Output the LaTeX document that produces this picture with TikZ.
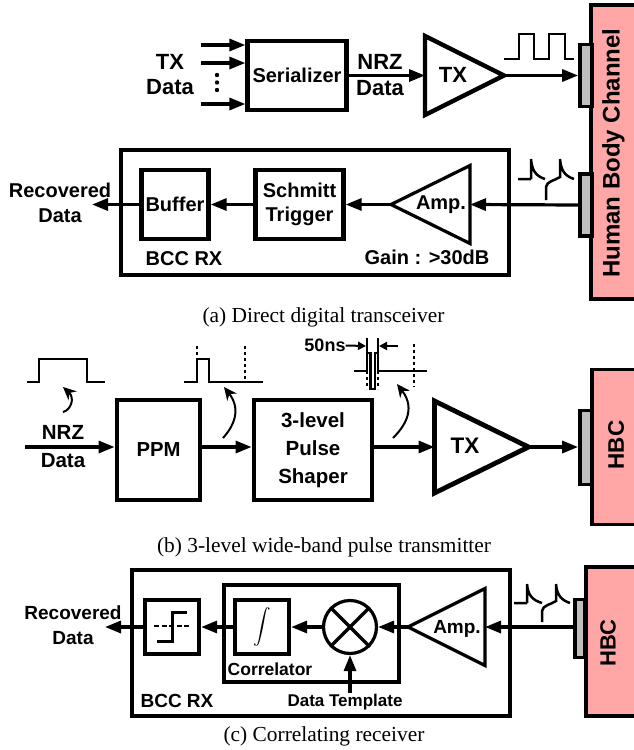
\documentclass[tikz,border=0pt]{standalone}
\usepackage{fontspec}
\setmainfont{Liberation Serif}
\setsansfont{Liberation Sans}
\usetikzlibrary{arrows.meta,shapes.geometric}
\definecolor{hbcpink}{RGB}{255,166,166}
\definecolor{elecgray}{RGB}{190,190,190}
\tikzset{
    lab/.style={font=\sffamily\bfseries\fontsize{#1}{25}\selectfont, inner sep=0pt, align=center},
    lab/.default=20,
    capt/.style={font=\fontsize{21.4}{25}\selectfont, inner sep=0pt},
    block/.style={draw, line width=#1, fill=white, inner sep=0pt},
    block/.default=4.3pt,
    amp/.style={draw, isosceles triangle, isosceles triangle stretches, inner sep=0pt, outer sep=0pt, line width=#1},
    sig/.style={line width=3.2pt, -{Triangle[length=16pt,width=12pt]}},
    wave/.style={line width=2.5pt},
    dashmark/.style={line width=1.3pt, dashed},
    hint/.style={line width=2pt, -{Stealth[length=13pt,width=12pt]}},
    dimarrow/.style={line width=2pt, -{Triangle[length=8pt,width=8pt]}},
    body/.style={draw, line width=3.8pt, fill=hbcpink, inner sep=0pt},
    elec/.style={draw, line width=3.8pt, fill=elecgray, inner sep=0pt},
}
\begin{document}
\begin{tikzpicture}[x=1pt,y=-1pt]
    \useasboundingbox (0,0) rectangle (634,750);

    % (a) transmit path
    \node[body, minimum width=50pt, minimum height=294pt] (bodya) at (616,152) {};
    \node[elec, minimum width=12pt, minimum height=62pt] (eleca) at (586,75.5) {};
    \node[elec, minimum width=12pt, minimum height=62pt] (elecb) at (586,205) {};
    \node[lab=24, rotate=90] (bodytxt) at (613.5,153) {Human Body Channel};
    \node[block, minimum width=99pt, minimum height=69pt, font=\sffamily\bfseries\fontsize{20}{24}\selectfont] (serial) at (297,75.5) {Serializer};
    \node[amp=4.3pt, minimum width=79pt, minimum height=79pt, anchor=lower side] (txa) at (425,75.5) {};
    \node[lab=22] (txatxt) at (453,75) {TX};
    \node[lab=22] (txdata) at (170,75) {TX\\Data};
    \node[lab=22] (nrza) at (380,75) {NRZ\\[1pt]Data};
    \coordinate (ina) at (201,45);
    \coordinate (inb) at (201,63);
    \coordinate (inc) at (201,104);
    \draw[sig] (ina) -- (ina -| serial.west);
    \draw[sig] (inb) -- (inb -| serial.west);
    \draw[sig] (inc) -- (inc -| serial.west);
    \fill (217,75) circle (2.2pt) (217,82.5) circle (2.2pt) (217,90) circle (2.2pt);
    \draw[sig] (serial.east) -- (txa.lower side);
    \draw[sig] (txa.apex) -- (eleca.west);
    \draw[wave] (504,59) -| (519,34) -| (534,59) -| (549,34) -| (565,59) -- (574,59);

    % (a) receive path
    \node[block=4.6pt, minimum width=388pt, minimum height=125pt] (rxa) at (315,212.5) {};
    \node[block, minimum width=67pt, minimum height=69pt, font=\sffamily\bfseries\fontsize{20}{24}\selectfont] (buffer) at (175,204.5) {Buffer};
    \node[block, minimum width=88pt, minimum height=69pt, align=center, font=\sffamily\bfseries\fontsize{20}{24}\selectfont] (schmitt) at (299.5,204.5) {Schmitt\\Trigger};
    \node[amp=3.2pt, minimum width=78pt, minimum height=79pt, shape border rotate=180, anchor=lower side] (ampa) at (470,204.5) {};
    \node[lab] (ampatxt) at (441,205) {Amp.};
    \node[lab] (bccrxa) at (184,259) {BCC RX};
    \node[lab] (gain) at (427,257) {Gain : >30dB};
    \node[lab] (reca) at (60,203) {Recovered\\Data};
    \coordinate (outa) at (92,204.5);
    \draw[sig] (elecb.west) -- (ampa.lower side);
    \draw[sig] (ampa.apex) -- (schmitt.east);
    \draw[sig] (schmitt.west) -- (buffer.east);
    \draw[sig] (buffer.west) -- (outa);
    \draw[wave, shift={(518,179)}] (0,0) -- (13,0) (13,-20) -- (13,0)
        (13,-20) .. controls (14,-8) and (18,-3) .. (27,0)
        (28,21) -- (28,8) .. controls (29,2) and (36,2) .. (42,-2) -- (42,-20)
        (42,-20) .. controls (43,-8) and (47,-3) .. (56,0);
    \node[capt] (capa) at (323.5,317) {(a) Direct digital transceiver};

    % (b) pulse transmitter
    \node[body, minimum width=50pt, minimum height=155pt] (bodyb) at (617,447) {};
    \node[elec, minimum width=12pt, minimum height=74pt] (elecc) at (586,447.5) {};
    \node[lab=22.5, rotate=90] (hbcb) at (616,445) {HBC};
    \node[block=4.8pt, minimum width=83pt, minimum height=100pt, font=\sffamily\bfseries\fontsize{20.3}{24}\selectfont] (ppm) at (158.5,450) {PPM};
    \node[block=4.8pt, minimum width=118pt, minimum height=100pt, align=center, font=\sffamily\bfseries\fontsize{20.5}{28}\selectfont] (shaper) at (313,450) {3-level\\Pulse\\Shaper};
    \node[amp=4.8pt, minimum width=92pt, minimum height=94pt, anchor=lower side] (txb) at (434.5,447) {};
    \node[lab=22.5] (txbtxt) at (465,446) {TX};
    \node[lab=20.5] (nrzb) at (63,447) {NRZ\\[3pt]Data};
    \coordinate (inbb) at (25,447);
    \draw[sig] (inbb) -- (inbb -| ppm.west);
    \draw[sig] (ppm.east |- inbb) -- (inbb -| shaper.west);
    \draw[sig] (shaper.east |- inbb) -- (txb.lower side);
    \draw[sig] (txb.apex) -- (elecc.west |- txb.apex);
    \draw[wave] (27,382) -- (39,382) -- (39,359) -- (87,359) -- (87,382) -- (105,382);
    \draw[wave] (184,382) -- (197,382) -- (197,359) -- (209,359) -- (209,382) -- (263,382);
    \draw[dashmark] (197,346) -- (197,359);
    \draw[dashmark] (245,346) -- (245,382);
    \draw[wave] (354,371) -- (367,371) -- (367,353) -- (370.5,353) -- (370.5,389) -- (375,389) -- (375,353) -- (378,353) -- (378,371) -- (427,371);
    \draw[line width=1.3pt] (367,338) -- (367,353) (378,338) -- (378,353);
    \draw[dashmark] (367,371) -- (367,389);
    \draw[dashmark] (378,371) -- (378,389);
    \draw[dashmark] (414,344) -- (414,387);
    \node[lab=18] (width) at (325,345.5) {50ns};
    \coordinate (dima) at (366,346);
    \coordinate (dimb) at (379,346);
    \coordinate (dimc) at (398,346);
    \draw[dimarrow] (width.east) -- (dima);
    \draw[dimarrow] (dimc) -- (dimb);
    \coordinate (hinta) at (63,412);
    \coordinate (hintb) at (223,438);
    \coordinate (hintc) at (393,438);
    \draw[hint] (hinta) .. controls (71,410) and (75,398) .. (63,387);
    \draw[hint] (hintb) .. controls (233,427) and (242,410) .. (224,387);
    \draw[hint] (hintc) .. controls (403,428) and (417,410) .. (397,384);
    \node[capt] (capb) at (324,547) {(b) 3-level wide-band pulse transmitter};

    % (c) correlating receiver
    \node[body, minimum width=50pt, minimum height=149pt] (bodyc) at (611,641.5) {};
    \node[elec, minimum width=10pt, minimum height=58pt] (elecd) at (580,628.5) {};
    \node[lab=22, rotate=90] (hbcc) at (608,643) {HBC};
    \node[block=4.8pt, minimum width=378pt, minimum height=146pt] (rxc) at (321,643) {};
    \node[block=3.8pt, minimum width=175.5pt, minimum height=97.5pt] (corr) at (311.5,633.5) {};
    \node[block, minimum width=54pt, minimum height=54pt] (thresh) at (172,627) {};
    \node[block, minimum width=54pt, minimum height=54pt] (integ) at (262,627) {\scalebox{1.75}{$\displaystyle\int$}};
    \node[draw, circle, line width=3.2pt, minimum size=53pt, inner sep=0pt, fill=white] (mixer) at (350,627) {};
    \draw[line width=3.2pt] (mixer.north west) -- (mixer.south east) (mixer.north east) -- (mixer.south west);
    \node[amp=3.2pt, minimum width=77pt, minimum height=77pt, shape border rotate=180, anchor=lower side] (ampc) at (485,627) {};
    \node[lab=19] (ampctxt) at (457,629) {Amp.};
    \node[lab=19] (bccrxc) at (177,701) {BCC RX};
    \node[lab=17.5] (corrtxt) at (270,669) {Correlator};
    \node[lab=17] (templ) at (345,702) {Data Template};
    \node[lab=19] (recc) at (73,625.5) {Recovered\\Data};
    \coordinate (outc) at (105,627);
    \coordinate (intempl) at (350,693);
    \draw[sig] (elecd.west |- ampc.lower side) -- (ampc.lower side);
    \draw[sig] (ampc.apex) -- (mixer.east);
    \draw[sig] (mixer.west) -- (integ.east);
    \draw[sig] (integ.west) -- (thresh.east);
    \draw[sig] (thresh.west) -- (outc);
    \draw[sig] (intempl) -- (mixer.south);
    \draw[line width=3pt] (157,641) -- (172,641) -- (172,612) -- (187,612);
    \draw[line width=2pt, dash pattern=on 5pt off 2.5pt] (154,626) -- (189,626);
    \draw[wave, shift={(514,603)}] (0,0) -- (13,0) (13,-19) -- (13,0)
        (13,-19) .. controls (14,-8) and (18,-3) .. (28,0)
        (28,19) -- (28,8) .. controls (29,2) and (36,2) .. (42,-2) -- (42,-19)
        (42,-19) .. controls (43,-8) and (47,-3) .. (56,0);
    \node[capt] (capc) at (324,736) {(c) Correlating receiver};
\end{tikzpicture}
\end{document}
